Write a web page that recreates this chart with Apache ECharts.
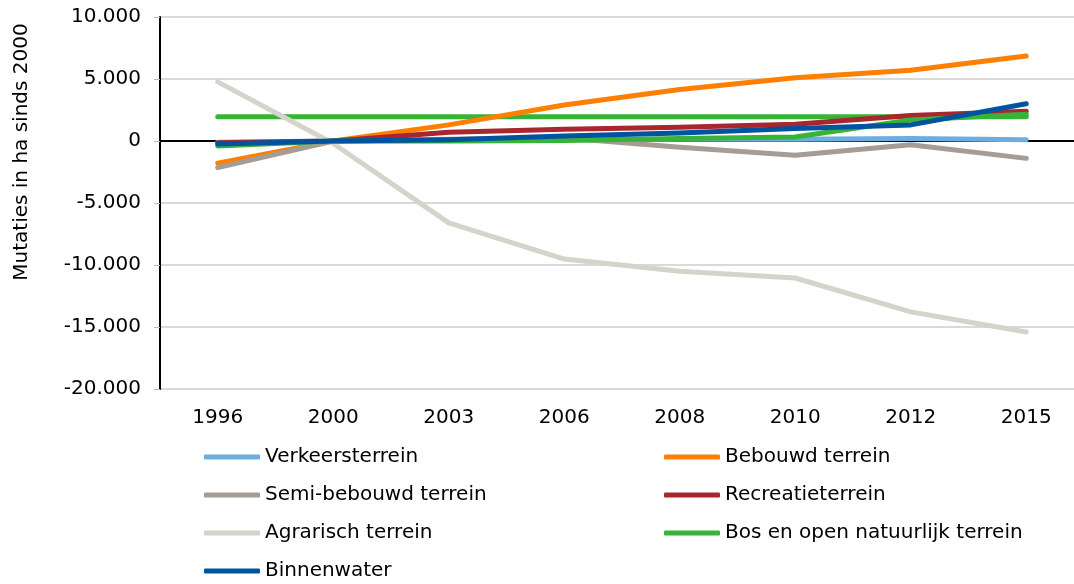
<!DOCTYPE html>
<html><head><meta charset="utf-8">
<script src="https://cdn.jsdelivr.net/npm/echarts@6/dist/echarts.min.js"></script>
<style>html,body{margin:0;padding:0;background:#fff}#c{width:1074px;height:584px}</style>
</head><body><div id="c"></div>
<script>
const years = ['1996','2000','2003','2006','2008','2010','2012','2015'];
const verkeersterrein = [-100, 0, 50, 100, 150, 150, 200, 100];
const bebouwd = [-1800, 0, 1300, 2900, 4150, 5100, 5700, 6850];
const semiBebouwd = [-2150, 0, 150, 250, -500, -1150, -300, -1400];
const recreatie = [-150, 0, 700, 950, 1100, 1350, 2050, 2400];
const agrarisch = [4770, -200, -6600, -9520, -10500, -11050, -13780, -15400];
const bosNatuur = [-400, 0, 0, 50, 200, 330, 1700, 2150];
const bosVlak = [1950, 1950, 1950, 1950, 1950, 1950, 1950, 1950];
const binnenwater = [-250, 0, 100, 400, 650, 1000, 1300, 3000];
const yTicks = [-20000, -15000, -10000, -5000, 0, 5000, 10000];

const FONT = 'DejaVu Sans';
const FS = 20;
function fmt(v){ const s = Math.abs(v).toString().replace(/\B(?=(\d{3})+(?!\d))/g,'.'); return (v<0?'-':'')+s; }

const defs = [
  ['Verkeersterrein', verkeersterrein, '#6CAEE2'],
  ['Bebouwd terrein', bebouwd, '#FF7F00'],
  ['Semi-bebouwd terrein', semiBebouwd, '#A59C96'],
  ['Recreatieterrein', recreatie, '#A9262F'],
  ['Agrarisch terrein', agrarisch, '#D6D3CA'],
  ['Bos en open natuurlijk terrein', bosNatuur, '#37B337'],
  ['Binnenwater', binnenwater, '#00549F']
];
const series = defs.map(d => ({
  name: d[0], type: 'line', data: d[1], symbol: 'none', smooth: false,
  lineStyle: {width: 5, color: d[2], cap: 'round', join: 'round'},
  itemStyle: {color: d[2]}, z: 3
}));
// flat green line (no legend entry)
series.splice(5, 0, {
  name: 'bos-vlak', type: 'line', data: bosVlak, symbol: 'none',
  lineStyle: {width: 5, color: '#37B337', cap: 'round'}, itemStyle:{color:'#37B337'}, z: 2
});

const legendText = {fontFamily: FONT, fontSize: FS, color: '#000'};
const chart = echarts.init(document.getElementById('c'));
chart.setOption({
  animation: false,
  grid: {left: 160, top: 17, width: 924, height: 372, outerBoundsMode: 'none', containLabel: false},
  xAxis: {
    type: 'category', data: years, boundaryGap: true,
    axisLine: {lineStyle: {color: '#000', width: 2}},
    axisTick: {show: false},
    axisLabel: {fontFamily: FONT, fontSize: FS, color: '#000', margin: 19}
  },
  yAxis: {
    type: 'value', min: -20000, max: 10000, interval: 5000,
    axisLine: {show: true, lineStyle: {color: '#000', width: 2}},
    axisTick: {show: true, length: 6, lineStyle: {color: '#BBBBBB'}},
    splitLine: {lineStyle: {color: '#D9D9D9', width: 2}},
    axisLabel: {fontFamily: FONT, fontSize: FS, color: '#000', margin: 19,
      formatter: v => yTicks.includes(v) ? fmt(v) : ''}
  },
  legend: [
    {data: ['Verkeersterrein','Semi-bebouwd terrein','Agrarisch terrein','Binnenwater'],
     orient: 'vertical', left: 204, top: 447, itemGap: 18, itemWidth: 56, itemHeight: 5,
     icon: 'roundRect', textStyle: legendText, padding: 0},
    {data: ['Bebouwd terrein','Recreatieterrein','Bos en open natuurlijk terrein'],
     orient: 'vertical', left: 664, top: 447, itemGap: 18, itemWidth: 56, itemHeight: 5,
     icon: 'roundRect', textStyle: legendText, padding: 0}
  ],
  graphic: [{
    type: 'text', x: 22, y: 152, rotation: Math.PI/2,
    style: {text: 'Mutaties in ha sinds 2000', fontFamily: FONT, fontSize: FS, fill: '#000',
      textAlign: 'center', textVerticalAlign: 'middle'}
  }],
  series: series
});
</script></body></html>
